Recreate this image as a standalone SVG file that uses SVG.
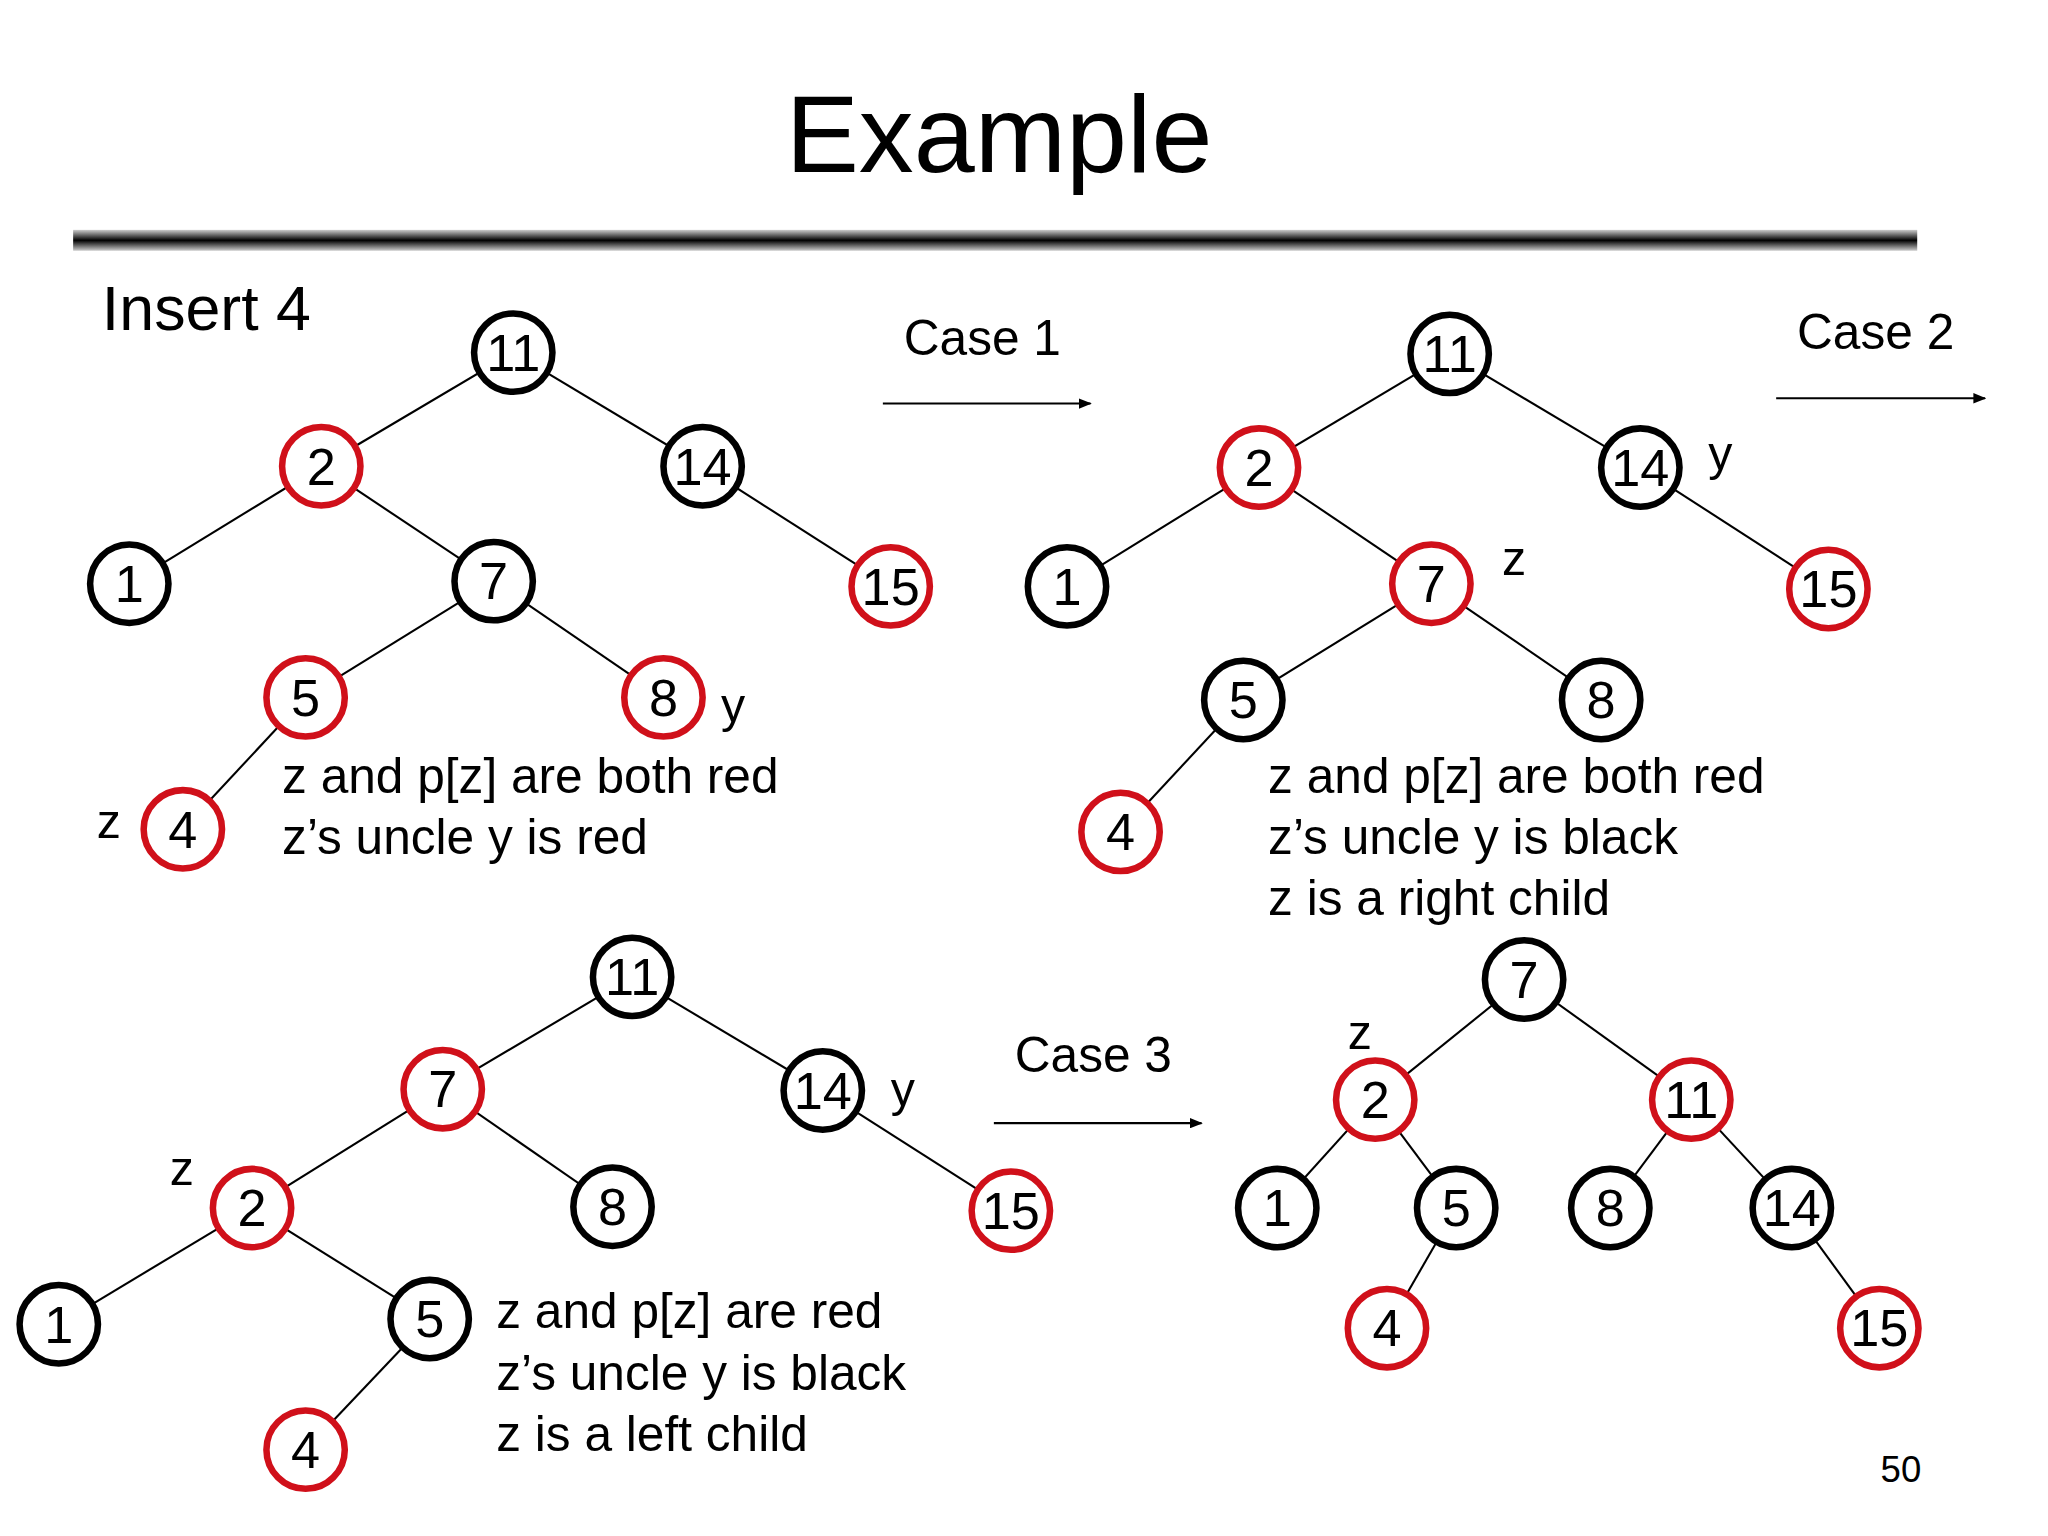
<svg xmlns="http://www.w3.org/2000/svg" width="2048" height="1536" viewBox="0 0 2048 1536">
<style>
text{font-family:"Liberation Sans",Arial,sans-serif;fill:#000}
.n circle{fill:#fff;stroke-width:5}
.b circle{stroke:#000}
.r circle{stroke:#d0101a}
.n text{font-size:40px;text-anchor:middle}
.e line{stroke:#000;stroke-width:1.6}
.t{font-size:38px}
.l{font-size:37px}
</style>
<defs>
<marker id="ah" markerWidth="10" markerHeight="8" refX="9" refY="4" orient="auto" markerUnits="userSpaceOnUse"><path d="M0,0 L10,4 L0,8 z" fill="#000"/></marker>
<linearGradient id="bar" x1="0" y1="0" x2="0" y2="1"><stop offset="0" stop-color="#ccc"/><stop offset="0.5" stop-color="#000"/><stop offset="1" stop-color="#ccc"/></linearGradient>
</defs>
<rect width="2048" height="1536" fill="#fff"/>
<g transform="scale(1.306)">
<text x="765" y="132" font-size="84" text-anchor="middle">Example</text>
<rect x="56" y="176" width="1412" height="16" fill="url(#bar)"/>
<text x="78" y="253" font-size="48">Insert 4</text>
<g class="e" id="connectors">
<line x1="393" y1="270" x2="246" y2="357"/><line x1="393" y1="270" x2="538" y2="357"/><line x1="246" y1="357" x2="99" y2="447"/><line x1="246" y1="357" x2="378" y2="445"/><line x1="538" y1="357" x2="682" y2="449"/><line x1="378" y1="445" x2="234" y2="534"/><line x1="378" y1="445" x2="508" y2="534"/><line x1="234" y1="534" x2="140" y2="635"/>
<line x1="1110" y1="271" x2="964" y2="358"/><line x1="1110" y1="271" x2="1256" y2="358"/><line x1="964" y1="358" x2="817" y2="449"/><line x1="964" y1="358" x2="1096" y2="447"/><line x1="1256" y1="358" x2="1400" y2="451"/><line x1="1096" y1="447" x2="952" y2="536"/><line x1="1096" y1="447" x2="1226" y2="536"/><line x1="952" y1="536" x2="858" y2="637"/>
<line x1="484" y1="748" x2="339" y2="834"/><line x1="484" y1="748" x2="630" y2="835"/><line x1="339" y1="834" x2="193" y2="925"/><line x1="339" y1="834" x2="469" y2="924"/><line x1="630" y1="835" x2="774" y2="927"/><line x1="193" y1="925" x2="45" y2="1014"/><line x1="193" y1="925" x2="329" y2="1010"/><line x1="329" y1="1010" x2="234" y2="1110"/>
<line x1="1167" y1="750" x2="1053" y2="842"/><line x1="1167" y1="750" x2="1295" y2="842"/><line x1="1053" y1="842" x2="978" y2="925"/><line x1="1053" y1="842" x2="1115" y2="925"/><line x1="1295" y1="842" x2="1233" y2="925"/><line x1="1295" y1="842" x2="1372" y2="925"/><line x1="1115" y1="925" x2="1062" y2="1017"/><line x1="1372" y1="925" x2="1439" y2="1017"/>
<line x1="676" y1="309" x2="835" y2="309" marker-end="url(#ah)"/>
<line x1="1360" y1="305" x2="1520" y2="305" marker-end="url(#ah)"/>
<line x1="761" y1="860" x2="920" y2="860" marker-end="url(#ah)"/>
</g>
<g id="t1a" class="n b"><circle cx="393" cy="270" r="30"/><text x="393" y="284">11</text></g>
<g id="t1b" class="n r"><circle cx="246" cy="357" r="30"/><text x="246" y="371">2</text></g>
<g id="t1c" class="n b"><circle cx="538" cy="357" r="30"/><text x="538" y="371">14</text></g>
<g id="t1d" class="n b"><circle cx="99" cy="447" r="30"/><text x="99" y="461">1</text></g>
<g id="t1e" class="n b"><circle cx="378" cy="445" r="30"/><text x="378" y="459">7</text></g>
<g id="t1f" class="n r"><circle cx="682" cy="449" r="30"/><text x="682" y="463">15</text></g>
<g id="t1g" class="n r"><circle cx="234" cy="534" r="30"/><text x="234" y="548">5</text></g>
<g id="t1h" class="n r"><circle cx="508" cy="534" r="30"/><text x="508" y="548">8</text></g>
<g id="t1i" class="n r"><circle cx="140" cy="635" r="30"/><text x="140" y="649">4</text></g>
<g id="t2a" class="n b"><circle cx="1110" cy="271" r="30"/><text x="1110" y="285">11</text></g>
<g id="t2b" class="n r"><circle cx="964" cy="358" r="30"/><text x="964" y="372">2</text></g>
<g id="t2c" class="n b"><circle cx="1256" cy="358" r="30"/><text x="1256" y="372">14</text></g>
<g id="t2d" class="n b"><circle cx="817" cy="449" r="30"/><text x="817" y="463">1</text></g>
<g id="t2e" class="n r"><circle cx="1096" cy="447" r="30"/><text x="1096" y="461">7</text></g>
<g id="t2f" class="n r"><circle cx="1400" cy="451" r="30"/><text x="1400" y="465">15</text></g>
<g id="t2g" class="n b"><circle cx="952" cy="536" r="30"/><text x="952" y="550">5</text></g>
<g id="t2h" class="n b"><circle cx="1226" cy="536" r="30"/><text x="1226" y="550">8</text></g>
<g id="t2i" class="n r"><circle cx="858" cy="637" r="30"/><text x="858" y="651">4</text></g>
<g id="t3a" class="n b"><circle cx="484" cy="748" r="30"/><text x="484" y="762">11</text></g>
<g id="t3b" class="n r"><circle cx="339" cy="834" r="30"/><text x="339" y="848">7</text></g>
<g id="t3c" class="n b"><circle cx="630" cy="835" r="30"/><text x="630" y="849">14</text></g>
<g id="t3d" class="n r"><circle cx="193" cy="925" r="30"/><text x="193" y="939">2</text></g>
<g id="t3e" class="n b"><circle cx="469" cy="924" r="30"/><text x="469" y="938">8</text></g>
<g id="t3f" class="n r"><circle cx="774" cy="927" r="30"/><text x="774" y="941">15</text></g>
<g id="t3g" class="n b"><circle cx="45" cy="1014" r="30"/><text x="45" y="1028">1</text></g>
<g id="t3h" class="n b"><circle cx="329" cy="1010" r="30"/><text x="329" y="1024">5</text></g>
<g id="t3i" class="n r"><circle cx="234" cy="1110" r="30"/><text x="234" y="1124">4</text></g>
<g id="t4a" class="n b"><circle cx="1167" cy="750" r="30"/><text x="1167" y="764">7</text></g>
<g id="t4b" class="n r"><circle cx="1053" cy="842" r="30"/><text x="1053" y="856">2</text></g>
<g id="t4c" class="n r"><circle cx="1295" cy="842" r="30"/><text x="1295" y="856">11</text></g>
<g id="t4d" class="n b"><circle cx="978" cy="925" r="30"/><text x="978" y="939">1</text></g>
<g id="t4e" class="n b"><circle cx="1115" cy="925" r="30"/><text x="1115" y="939">5</text></g>
<g id="t4f" class="n b"><circle cx="1233" cy="925" r="30"/><text x="1233" y="939">8</text></g>
<g id="t4g" class="n b"><circle cx="1372" cy="925" r="30"/><text x="1372" y="939">14</text></g>
<g id="t4h" class="n r"><circle cx="1062" cy="1017" r="30"/><text x="1062" y="1031">4</text></g>
<g id="t4i" class="n r"><circle cx="1439" cy="1017" r="30"/><text x="1439" y="1031">15</text></g>
<g class="l">
<text x="74" y="642">z</text><text x="552" y="553">y</text>
<text x="1308" y="360">y</text><text x="1150" y="440">z</text>
<text x="130" y="907">z</text><text x="682" y="847">y</text>
<text x="1032" y="803">z</text>
</g>
<g class="t">
<text x="216" y="607">z and p[z] are both red</text><text x="216" y="654">z’s uncle y is red</text>
<text x="971" y="607">z and p[z] are both red</text><text x="971" y="654">z’s uncle y is black</text><text x="971" y="701">z is a right child</text>
<text x="380" y="1017">z and p[z] are red</text><text x="380" y="1064">z’s uncle y is black</text><text x="380" y="1111">z is a left child</text>
<text x="692" y="272">Case 1</text><text x="1376" y="267">Case 2</text><text x="777" y="821">Case 3</text>
</g>
<text x="1440" y="1135" font-size="28">50</text>
</g>
</svg>
